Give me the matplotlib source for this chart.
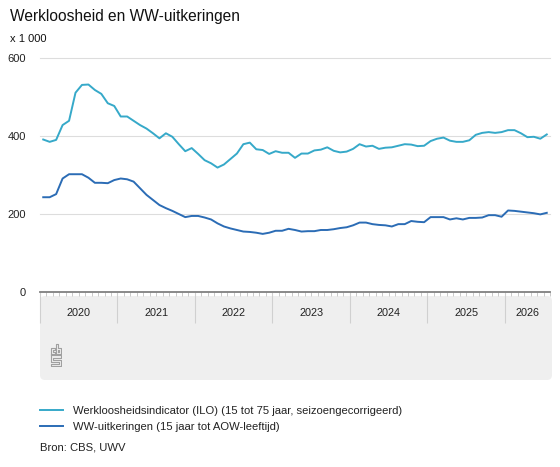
import numpy as np
import matplotlib
matplotlib.use("Agg")
from matplotlib import pyplot as plt
from matplotlib.patches import FancyBboxPatch
from matplotlib.transforms import blended_transform_factory

plt.rcParams['font.family'] = ['Liberation Sans', 'DejaVu Sans']

# maandcijfers jan 2020 - jul 2026, x 1 000
ilo = [391, 385, 390, 428, 439, 511, 531, 532, 518, 508, 484, 477,
       450, 450, 439, 428, 419, 407, 394, 407, 398, 379, 361, 369,
       354, 338, 330, 319, 327, 341, 355, 379, 383, 366, 364, 354,
       361, 357, 357, 344, 355, 355, 363, 365, 371, 362, 358, 360,
       367, 379, 373, 375, 367, 370, 371, 375, 379, 378, 374, 375,
       387, 393, 396, 388, 385, 385, 389, 403, 408, 410, 408, 410,
       415, 415, 407, 397, 398, 393, 404]
ww = [243, 243, 251, 291, 302, 302, 302, 293, 280, 280, 279, 287,
      291, 289, 283, 266, 249, 236, 223, 215, 208, 200, 192, 195,
      195, 191, 186, 176, 168, 163, 159, 155, 154, 152, 149, 152,
      157, 157, 162, 159, 155, 156, 156, 159, 159, 161, 164, 166,
      171, 178, 178, 174, 172, 171, 168, 174, 174, 182, 180, 179,
      192, 192, 192, 186, 189, 186, 190, 190, 191, 197, 197, 193,
      209, 208, 206, 204, 202, 199, 203]
jaren = ['2020', '2021', '2022', '2023', '2024', '2025', '2026']
yticks = [0, 200, 400, 600]
labels = ['Werkloosheidsindicator (ILO) (15 tot 75 jaar, seizoengecorrigeerd)',
          'WW-uitkeringen (15 jaar tot AOW-leeftijd)']

W, H = 560, 467
fig = plt.figure(figsize=(W / 100, H / 100), dpi=100)

# grijze band onder de grafiek
band = FancyBboxPatch((40, H - 380), 512, 84, boxstyle="round,pad=0,rounding_size=5",
                      transform=None, facecolor='#efefef', edgecolor='none', zorder=-5)
fig.patches.append(band)

ax = fig.add_axes([40 / W, (H - 292) / H, 510 / W, 234 / H])
ax.patch.set_alpha(0)
n = len(ilo)
x = np.arange(n) + 0.5
ax.plot(x, ilo, color='#36a9c9', lw=1.4, label=labels[0], zorder=3)
ax.plot(x, ww, color='#2b6cb5', lw=1.4, label=labels[1], zorder=3)

ax.set_xlim(0, n)
ax.set_ylim(0, 600)
for s in ax.spines.values():
    s.set_visible(False)
for v in yticks[1:]:
    ax.axhline(v, color='#dddddd', lw=0.8, zorder=1, clip_on=False)
ax.axhline(0, color='#808080', lw=1.3, zorder=4, clip_on=False)

ax.set_yticks(yticks)
ax.set_yticklabels([str(v) for v in yticks])
ax.tick_params(axis='y', length=0, pad=10, labelsize=8, labelcolor='#222222')

ax.set_xticks(np.arange(0, n, 12))
ax.set_xticks(np.arange(0, n + 1), minor=True)
ax.set_xticklabels([])
ax.tick_params(axis='x', which='major', length=22, width=0.8, color='#d0d0d0')
ax.tick_params(axis='x', which='minor', length=3.2, width=0.6, color='#c2c2c2')

tr = blended_transform_factory(ax.transData, ax.transAxes)
for k, j in enumerate(jaren):
    mid = (12 * k + min(12 * k + 12, n)) / 2
    ax.text(mid, -21 / 234, j, transform=tr, ha='center', va='center',
            fontsize=7.8, color='#222222')

# cbs-logo (schets)
lg = fig.add_axes([50 / W, (H - 367) / H, 12 / W, 24 / H])
lg.set_xlim(0, 12)
lg.set_ylim(0, 24)
lg.axis('off')
c = '#a0a0a0'
segs = [
    [(1, 13), (1, 19), (5, 19), (5, 17), (3, 17), (3, 15), (5, 15), (5, 13), (1, 13)],
    [(6, 13), (6, 23), (8, 23), (8, 19), (11, 19), (11, 13), (6, 13)],
    [(8, 15), (9, 15), (9, 17), (8, 17), (8, 15)],
    [(1, 12), (11, 12), (11, 9), (3, 9), (3, 7), (11, 7), (11, 1), (1, 1), (1, 3), (9, 3),
     (9, 5), (1, 5), (1, 12)],
]
for sg in segs:
    xs, ys = zip(*sg)
    lg.plot(xs, ys, color=c, lw=0.8)

fig.text(10 / W, 1 - 17 / H, 'Werkloosheid en WW-uitkeringen', fontsize=11.2,
         color='#111111', va='center', ha='left')
fig.text(10 / W, 1 - 39 / H, 'x 1 000', fontsize=8, color='#111111', va='center', ha='left')

leg = fig.legend(loc='upper left', bbox_to_anchor=(40 / W, 1 - 406 / H), frameon=False,
                 fontsize=8.1, handlelength=2.0, handletextpad=0.9, labelspacing=0.55,
                 borderaxespad=0, borderpad=0)
for t in leg.get_texts():
    t.set_color('#222222')
fig.text(40 / W, 1 - 447 / H, 'Bron: CBS, UWV', fontsize=8.1, color='#222222',
         va='center', ha='left')

fig.savefig('out.png', dpi=100)
